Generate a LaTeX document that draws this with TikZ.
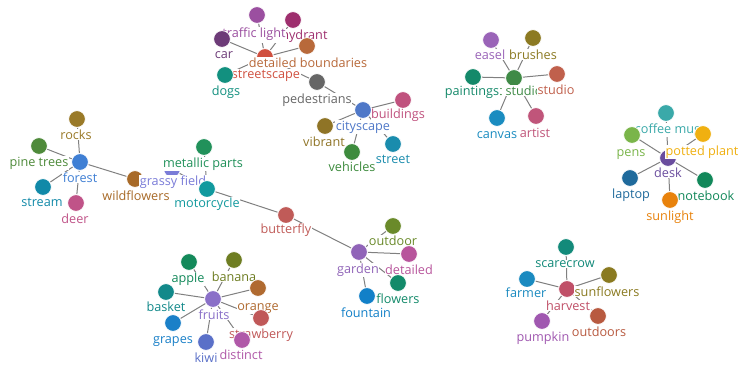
\documentclass[tikz,border=0pt]{standalone}
\usepackage{fontspec}
\setmainfont{Open Sans}
\pgfdeclarelayer{bg}
\pgfsetlayers{bg,main}
\definecolor{cTraffic}{HTML}{9B4FA0}
\definecolor{cHydrant}{HTML}{9E2F6E}
\definecolor{cCar}{HTML}{6D3B78}
\definecolor{cBound}{HTML}{B8693A}
\definecolor{cStreetscape}{HTML}{D0503F}
\definecolor{cDogs}{HTML}{12907F}
\definecolor{cPed}{HTML}{666666}
\definecolor{cCity}{HTML}{4F78C8}
\definecolor{cBuild}{HTML}{C0527E}
\definecolor{cVibrant}{HTML}{8F7426}
\definecolor{cVehicles}{HTML}{3D8B3D}
\definecolor{cStreet}{HTML}{1A8CAD}
\definecolor{cEasel}{HTML}{9A64B8}
\definecolor{cBrushes}{HTML}{8C7A22}
\definecolor{cPaint}{HTML}{14896A}
\definecolor{cArtStudio}{HTML}{3F8A46}
\definecolor{cStudio}{HTML}{C0604C}
\definecolor{cCanvas}{HTML}{1A8CC0}
\definecolor{cArtist}{HTML}{C0557A}
\definecolor{cMug}{HTML}{3AA9A9}
\definecolor{cPens}{HTML}{7AB54A}
\definecolor{cPlant}{HTML}{F0B010}
\definecolor{cDesk}{HTML}{6A4D9E}
\definecolor{cLaptop}{HTML}{1F6A9C}
\definecolor{cNotebook}{HTML}{12885A}
\definecolor{cSun}{HTML}{E8820C}
\definecolor{cRocks}{HTML}{9A7A28}
\definecolor{cPine}{HTML}{4E8A3A}
\definecolor{cForest}{HTML}{3F7FD4}
\definecolor{cStream}{HTML}{1189A8}
\definecolor{cDeer}{HTML}{C05388}
\definecolor{cWild}{HTML}{A86A28}
\definecolor{cGrassy}{HTML}{7A7CD8}
\definecolor{cMetal}{HTML}{21915A}
\definecolor{cMoto}{HTML}{11999E}
\definecolor{cButter}{HTML}{C05B58}
\definecolor{cGarden}{HTML}{9064B8}
\definecolor{cOutdoor}{HTML}{6A8A2A}
\definecolor{cDetailed}{HTML}{B8559C}
\definecolor{cFlowers}{HTML}{138A6A}
\definecolor{cFountain}{HTML}{1280C8}
\definecolor{cApple}{HTML}{13895A}
\definecolor{cBanana}{HTML}{6E7D22}
\definecolor{cBasket}{HTML}{12898A}
\definecolor{cFruits}{HTML}{8A70C8}
\definecolor{cOrange}{HTML}{B06A30}
\definecolor{cGrapes}{HTML}{1A80C8}
\definecolor{cStraw}{HTML}{C05858}
\definecolor{cKiwi}{HTML}{5A70C8}
\definecolor{cDistinct}{HTML}{B058A8}
\definecolor{cScare}{HTML}{138A7A}
\definecolor{cFarmer}{HTML}{1A8AC0}
\definecolor{cSunfl}{HTML}{8A7A20}
\definecolor{cHarvest}{HTML}{C05068}
\definecolor{cOutdoors}{HTML}{B85A40}
\definecolor{cPumpkin}{HTML}{A058B0}
\definecolor{edgegray}{HTML}{808080}
\newcommand\gn[7]{%
  \node[dot,fill=#4] (#1) at (#2,#3) {};
  \node[lbl,text=#4] (#1-l) at (#6,#7) {#5};}
\tikzset{
  dot/.style={circle,draw=white,line width=0.6pt,minimum size=12.6pt,inner sep=0pt},
  lbl/.style={anchor=base,inner sep=0.4pt,fill=white,font=\fontsize{9.5pt}{10pt}\selectfont},
  edge/.style={draw=edgegray,line width=0.75pt}
}
\begin{document}
\begin{tikzpicture}[x=0.75pt,y=-0.75pt]
\useasboundingbox (0,0) rectangle (738,364);
% streetscape cluster
\gn{hydrant}{293}{20}{cHydrant}{fire hydrant}{293}{39}
\gn{traffic}{257}{15}{cTraffic}{traffic light}{254}{37}
\gn{car}{222}{39}{cCar}{car}{224}{58}
\gn{streetscape}{265}{57}{cStreetscape}{streetscape}{266}{78}
\gn{bound}{307}{46}{cBound}{detailed boundaries}{308}{67}
\gn{dogs}{225}{75}{cDogs}{dogs}{226}{95}
\gn{ped}{317}{82}{cPed}{pedestrians}{317}{103}
\gn{city}{363}{110}{cCity}{cityscape}{363}{130}
\gn{build}{403}{100}{cBuild}{buildings}{398}{118}
\gn{vibrant}{325}{126}{cVibrant}{vibrant}{324}{146}
\gn{vehicles}{352}{152}{cVehicles}{vehicles}{352}{171}
\gn{street}{393}{144}{cStreet}{street}{393}{163}
% studio cluster
\gn{easel}{491}{40}{cEasel}{easel}{490}{59}
\gn{brushes}{533}{38}{cBrushes}{brushes}{533}{59}
\gn{artstudio}{514}{78}{cArtStudio}{art studio}{514}{95}
\gn{paint}{473}{77}{cPaint}{paintings}{472}{95}
\gn{studio}{557}{74}{cStudio}{studio}{556}{94}
\gn{canvas}{497}{118}{cCanvas}{canvas}{497}{138}
\gn{artist}{536}{116}{cArtist}{artist}{535}{137}
% desk cluster
\gn{mug}{666}{113}{cMug}{coffee mug}{668}{133}
\gn{pens}{632}{135}{cPens}{pens}{631}{156}
\gn{desk}{668}{158}{cDesk}{desk}{668}{177}
\gn{plant}{703}{134}{cPlant}{potted plant}{702}{155}
\gn{laptop}{630}{178}{cLaptop}{laptop}{631}{198}
\gn{notebook}{705}{180}{cNotebook}{notebook}{706}{200}
\gn{sun}{670}{200}{cSun}{sunlight}{670}{220}
% forest cluster
\gn{rocks}{77}{119}{cRocks}{rocks}{76}{139}
\gn{pine}{39}{146}{cPine}{pine trees}{39}{166}
\gn{forest}{80}{162}{cForest}{forest}{80}{182}
\gn{stream}{43}{187}{cStream}{stream}{42}{206}
\gn{deer}{76}{203}{cDeer}{deer}{75}{223}
\gn{wild}{135}{179}{cWild}{wildflowers}{136}{200}
% chain
\gn{grassy}{172}{169}{cGrassy}{grassy field}{173}{185}
\gn{metal}{204}{147}{cMetal}{metallic parts}{203}{167}
\gn{moto}{207}{189}{cMoto}{motorcycle}{207}{207}
\gn{butter}{286}{215}{cButter}{butterfly}{286}{233}
\gn{garden}{359}{252}{cGarden}{garden}{358}{273}
\gn{outdoor}{393}{226}{cOutdoor}{outdoor}{393}{245}
\gn{detailed}{409}{254}{cDetailed}{detailed}{409}{274}
\gn{flowers}{398}{283}{cFlowers}{flowers}{398}{303}
\gn{fountain}{367}{296}{cFountain}{fountain}{366}{317}
% fruits cluster
\gn{apple}{189}{262}{cApple}{apple}{188}{282}
\gn{banana}{234}{260}{cBanana}{banana}{234}{281}
\gn{basket}{166}{292}{cBasket}{basket}{166}{311}
\gn{fruits}{213}{299}{cFruits}{fruits}{214}{319}
\gn{orange}{258}{288}{cOrange}{orange}{258}{310}
\gn{grapes}{173}{323}{cGrapes}{grapes}{173}{343}
\gn{straw}{261}{318}{cStraw}{strawberry}{261}{338}
\gn{kiwi}{206}{342}{cKiwi}{kiwi}{206}{362}
\gn{distinct}{242}{340}{cDistinct}{distinct}{241}{359}
% harvest cluster
\gn{scare}{566}{247}{cScare}{scarecrow}{565}{267}
\gn{farmer}{527}{279}{cFarmer}{farmer}{526}{297}
\gn{harvest}{567}{289}{cHarvest}{harvest}{568}{310}
\gn{sunfl}{609}{275}{cSunfl}{sunflowers}{607}{296}
\gn{outdoors}{598}{316}{cOutdoors}{outdoors}{599}{336}
\gn{pumpkin}{542}{321}{cPumpkin}{pumpkin}{543}{341}
\begin{pgfonlayer}{bg}
\foreach \a/\b in {streetscape/traffic,streetscape/hydrant,streetscape/car,streetscape/bound,streetscape/dogs,streetscape/ped,
  ped/city,city/build,city/vibrant,city/vehicles,city/street,
  artstudio/easel,artstudio/brushes,artstudio/paint,artstudio/studio,artstudio/canvas,artstudio/artist,
  desk/mug,desk/pens,desk/plant,desk/laptop,desk/notebook,desk/sun,
  forest/rocks,forest/pine,forest/stream,forest/deer,forest/wild,
  grassy/moto,metal/moto,moto/butter,butter/garden,
  garden/outdoor,garden/detailed,garden/flowers,garden/fountain,
  fruits/apple,fruits/banana,fruits/basket,fruits/orange,fruits/grapes,fruits/straw,fruits/kiwi,fruits/distinct,
  harvest/scare,harvest/farmer,harvest/sunfl,harvest/outdoors,harvest/pumpkin}
  \draw[edge] (\a) -- (\b);
\end{pgfonlayer}
\end{tikzpicture}
\end{document}
